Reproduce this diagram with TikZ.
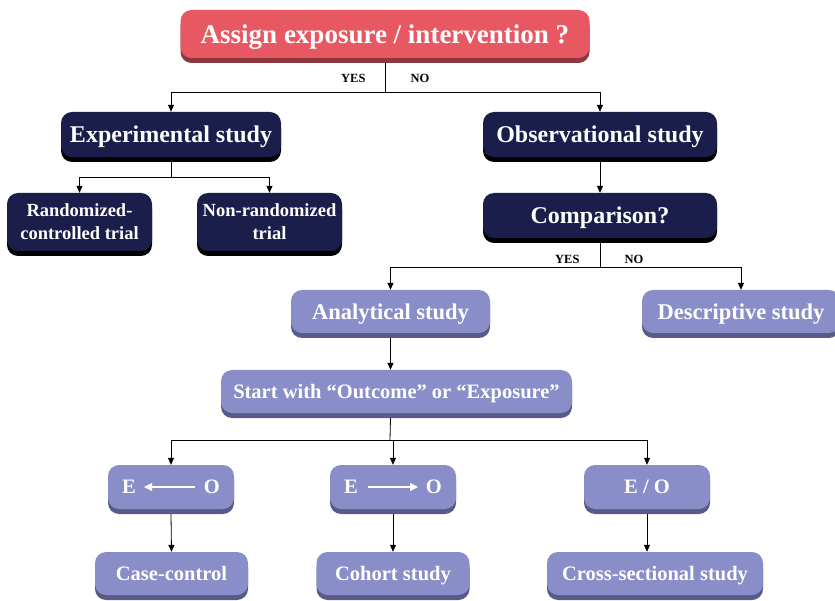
\documentclass[tikz,border=0pt]{standalone}
\usepackage{fontspec}
\setmainfont{Liberation Serif}
\usetikzlibrary{arrows.meta}
\usetikzlibrary{shadows}

\definecolor{topred}{RGB}{232,88,98}
\definecolor{topshade}{RGB}{140,56,62}
\definecolor{navy}{RGB}{27,30,74}
\definecolor{lavender}{RGB}{138,142,200}
\definecolor{lavshade}{RGB}{88,90,136}

\tikzset{
	box/.style={rounded corners=11pt, text=white, align=center, inner sep=0pt, text depth=0pt},
	redbox/.style={box, fill=topred, font=\bfseries\fontsize{27}{32}\selectfont,
		drop shadow={shadow xshift=0pt, shadow yshift=-5pt, fill=topshade, opacity=1}},
	navybox/.style={box, fill=navy, font=\bfseries\fontsize{24}{28}\selectfont,
		drop shadow={shadow xshift=0pt, shadow yshift=-5pt, fill=black, opacity=1}},
	lavbox/.style={box, fill=lavender, font=\bfseries\fontsize{20.5}{24}\selectfont,
		drop shadow={shadow xshift=0pt, shadow yshift=-5pt, fill=lavshade, opacity=1}},
	bigtext/.style={font=\bfseries\fontsize{22.5}{26}\selectfont},
	arr/.style={-{Triangle[length=7pt,width=6pt]}, line width=0.8pt},
	ln/.style={line width=0.8pt},
	eoarr/.style={-{Triangle[length=8pt,width=8pt]}, white, line width=1.2pt},
	yn/.style={font=\bfseries\fontsize{12.5}{14}\selectfont}
}

\begin{document}
\begin{tikzpicture}[x=1pt, y=-1pt]
	\useasboundingbox (0,0) rectangle (835,601);

	% first question
	\node[redbox, minimum width=409pt, minimum height=48pt] (assign) at (385,34) {Assign exposure / intervention ?};

	% experimental / observational
	\node[navybox, minimum width=220pt, minimum height=45pt] (exp) at (171,134.5) {Experimental study};
	\node[navybox, minimum width=234pt, minimum height=45pt] (obs) at (600,134.5) {Observational study};

	\coordinate (j1) at (385,92);
	\draw[ln] ([yshift=-5pt]assign.south) -- (j1);
	\draw[arr] (j1) -| (exp.north);
	\draw[arr] (j1) -| (obs.north);
	\node[yn, anchor=east] (yes1) at (369,78) {YES};
	\node[yn, anchor=west] (no1) at (407,78) {NO};

	% trials
	\node[navybox, font=\bfseries\fontsize{18.5}{23}\selectfont, minimum width=145pt, minimum height=58pt] (rct) at (79.5,222) {Randomized-\\controlled trial};
	\node[navybox, font=\bfseries\fontsize{18.5}{23}\selectfont, minimum width=145pt, minimum height=58pt] (nrt) at (269.5,222) {Non-randomized\\trial};

	\coordinate (j2) at (171,177);
	\draw[ln] ([yshift=-5pt]exp.south) -- (j2);
	\draw[arr] (j2) -| (rct.north);
	\draw[arr] (j2) -| (nrt.north);

	% comparison
	\node[navybox, minimum width=234pt, minimum height=45pt] (comp) at (600,215.5) {Comparison?};
	\draw[arr] ([yshift=-5pt]obs.south) -- (comp.north);

	\node[lavbox, bigtext, minimum width=199pt, minimum height=43pt] (ana) at (390.5,311.5) {Analytical study};
	\node[lavbox, bigtext, minimum width=198pt, minimum height=43pt] (desc) at (741,311.5) {Descriptive study};

	\coordinate (j3) at (600,267);
	\draw[ln] ([yshift=-5pt]comp.south) -- (j3);
	\draw[arr] (j3) -| (ana.north);
	\draw[arr] (j3) -| (desc.north);
	\node[yn, anchor=east] (yes2) at (583,259) {YES};
	\node[yn, anchor=west] (no2) at (621,259) {NO};

	% outcome or exposure
	\node[lavbox, minimum width=351pt, minimum height=43pt] (start) at (396.5,391.5) {Start with “Outcome” or “Exposure”};
	\draw[arr] ([yshift=-5pt]ana.south) -- (start.north -| ana.south);

	\node[lavbox, minimum width=126pt, minimum height=44pt] (eoa) at (171,487) {E\hspace{68pt}O};
	\node[lavbox, minimum width=126pt, minimum height=44pt] (eob) at (393,487) {E\hspace{68pt}O};
	\node[lavbox, minimum width=126pt, minimum height=44pt] (eoc) at (647,487) {E / O};
	\draw[eoarr] ([xshift=24pt]eoa.center) -- ([xshift=-27pt]eoa.center);
	\draw[eoarr] ([xshift=-25pt]eob.center) -- ([xshift=25pt]eob.center);

	\coordinate (j4) at (390,440);
	\draw[ln] ([yshift=-5pt]start.south -| ana.south) -- (j4);
	\draw[arr] (j4) -| (eoa.north);
	\draw[arr] (j4) -| (eob.north);
	\draw[arr] (j4) -| (eoc.north);

	% designs
	\node[lavbox, minimum width=153pt, minimum height=43pt] (cc) at (171.5,573.5) {Case-control};
	\node[lavbox, minimum width=153pt, minimum height=43pt] (coh) at (393,573.5) {Cohort study};
	\node[lavbox, minimum width=216pt, minimum height=43pt] (cs) at (655,573.5) {Cross-sectional study};
	\draw[arr] ([yshift=-5pt]eoa.south) -- (cc.north);
	\draw[arr] ([yshift=-5pt]eob.south) -- (coh.north);
	\draw[arr] ([yshift=-5pt]eoc.south) -- (eoc.south |- cs.north);

\end{tikzpicture}
\end{document}
